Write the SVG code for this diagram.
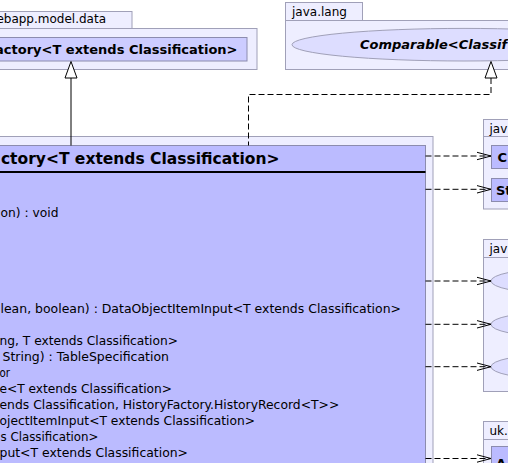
<svg xmlns="http://www.w3.org/2000/svg" width="508" height="463" viewBox="0 0 508 463">
<style>
text{font-family:"DejaVu Sans","Liberation Sans",sans-serif;fill:#000}
.pkg{fill:#eeeeff;stroke:#a0a0b8;stroke-width:1}
.cls{fill:#bbbbff;stroke:#8c8cae;stroke-width:1}
.cls2{fill:#ccccff;stroke:#8c8cae;stroke-width:1}
.ifc{fill:#ddddff;stroke:#a0a0b8;stroke-width:1}
.ptxt{font-size:12px}
.ttl{font-weight:bold}
.mem{font-size:12px}
.dep{fill:none;stroke:#000;stroke-width:1;stroke-dasharray:6,3}
.ah{fill:none;stroke:#000;stroke-width:1}
.gen{fill:#fff;stroke:#000;stroke-width:1}
</style>
<rect width="508" height="463" fill="#fff"/>

<g id="pkg-model-data">
<rect class="pkg" x="-10" y="11.5" width="142" height="17"/>
<rect class="pkg" x="-10" y="28.5" width="267" height="41"/>
<text class="ptxt" x="106" y="23" text-anchor="end">ebapp.model.data</text>
</g>
<g id="cls-factory-parent">
<rect class="cls2" x="-10" y="37.5" width="257" height="23.5"/>
<text class="ttl" x="237.5" y="54.3" font-size="13" text-anchor="end">actory&lt;T extends Classification&gt;</text>
</g>

<g id="pkg-java-lang">
<rect class="pkg" x="285.5" y="2.5" width="77" height="18"/>
<rect class="pkg" x="285.5" y="20.5" width="240" height="49"/>
<text class="ptxt" x="292" y="16">java.lang</text>
</g>
<g id="ifc-comparable">
<ellipse class="ifc" cx="464" cy="44.7" rx="172" ry="16.3"/>
<text class="ttl" x="360" y="49.3" font-size="13" font-style="italic">Comparable&lt;Classif</text>
</g>

<g id="pkg-main">
<rect class="pkg" x="-10" y="136.5" width="443" height="340"/>
</g>
<g id="cls-main">
<rect class="cls" x="-10" y="145.5" width="435.5" height="330"/>
<line x1="-10" y1="172" x2="425.5" y2="172" stroke="#000" stroke-width="2"/>
<text class="ttl" x="279.5" y="163.5" font-size="15.5" text-anchor="end">ctory&lt;T extends Classification&gt;</text>
<text class="mem" x="0.5" y="217" textLength="58" lengthAdjust="spacingAndGlyphs">on) : void</text>
<text class="mem" x="0.5" y="313.3" textLength="400.5" lengthAdjust="spacingAndGlyphs">lean, boolean) : DataObjectItemInput&lt;T extends Classification&gt;</text>
<text class="mem" x="-0.5" y="345" textLength="178.5" lengthAdjust="spacingAndGlyphs">ng, T extends Classification&gt;</text>
<text class="mem" x="2.5" y="361" textLength="166.5" lengthAdjust="spacingAndGlyphs">String) : TableSpecification</text>
<text class="mem" x="-0.5" y="377" textLength="10.5" lengthAdjust="spacingAndGlyphs">or</text>
<text class="mem" x="-0.5" y="393" textLength="172.5" lengthAdjust="spacingAndGlyphs">e&lt;T extends Classification&gt;</text>
<text class="mem" x="-0.5" y="408.7" textLength="339.8" lengthAdjust="spacingAndGlyphs">ends Classification, HistoryFactory.HistoryRecord&lt;T&gt;&gt;</text>
<text class="mem" x="-0.5" y="424.7" textLength="255.5" lengthAdjust="spacingAndGlyphs">ojectItemInput&lt;T extends Classification&gt;</text>
<text class="mem" x="0.5" y="440.7" textLength="98" lengthAdjust="spacingAndGlyphs">s Classification&gt;</text>
<text class="mem" x="-0.5" y="456.7" textLength="188.5" lengthAdjust="spacingAndGlyphs">put&lt;T extends Classification&gt;</text>
</g>

<g id="pkg-right-1">
<rect class="pkg" x="483.5" y="119.5" width="60" height="17"/>
<rect class="pkg" x="483.5" y="136.5" width="60" height="72.5"/>
<text class="ptxt" x="489.5" y="132.5">jav</text>
</g>
<g id="cls-C">
<rect class="cls" x="491.5" y="145.5" width="40" height="23"/>
<text class="ttl" x="497.5" y="161.6" font-size="13">C</text>
</g>
<g id="cls-St">
<rect class="cls" x="491.5" y="178.5" width="40" height="23"/>
<text class="ttl" x="496" y="194.5" font-size="13">St</text>
</g>

<g id="pkg-right-2">
<rect class="pkg" x="483.5" y="239.5" width="60" height="18"/>
<rect class="pkg" x="483.5" y="257.5" width="60" height="134"/>
<text class="ptxt" x="489.5" y="252.5">jav</text>
</g>
<g id="ifc-r2-1"><ellipse class="ifc" cx="551" cy="281" rx="60" ry="12"/></g>
<g id="ifc-r2-2"><ellipse class="ifc" cx="551" cy="324.3" rx="60" ry="12"/></g>
<g id="ifc-r2-3"><ellipse class="ifc" cx="551" cy="366.7" rx="60" ry="12"/></g>

<g id="pkg-uk">
<rect class="pkg" x="483.5" y="421.5" width="60" height="18"/>
<rect class="pkg" x="483.5" y="439.5" width="60" height="40"/>
<text class="ptxt" x="489.5" y="434.5">uk.</text>
</g>
<g id="cls-A">
<rect class="cls" x="491.5" y="446.5" width="40" height="30"/>
<text class="ttl" x="496" y="468" font-size="13">A</text>
</g>

<g id="connectors">
<line x1="71" y1="78" x2="71" y2="145.5" stroke="#000" stroke-width="1"/>
<polygon class="gen" points="71,61.5 65,78 77,78"/>
<polyline class="dep" points="491,78 491,94.5 248.5,94.5 248.5,145.5"/>
<polygon class="gen" points="491,61.5 485,78 497,78"/>
<line class="dep" x1="425.5" y1="156" x2="491" y2="156"/>
<polyline class="ah" points="477,152.3 491,156 477,159.7"/>
<line class="dep" x1="425.5" y1="189.3" x2="491" y2="189.3"/>
<polyline class="ah" points="477,185.6 491,189.3 477,193"/>
<line class="dep" x1="425.5" y1="281" x2="491" y2="281"/>
<polyline class="ah" points="477,277.3 491,281 477,284.7"/>
<line class="dep" x1="425.5" y1="324.3" x2="491" y2="324.3"/>
<polyline class="ah" points="477,320.6 491,324.3 477,328"/>
<line class="dep" x1="425.5" y1="366.7" x2="491" y2="366.7"/>
<polyline class="ah" points="477,363 491,366.7 477,370.4"/>
<line class="dep" x1="425.5" y1="458.5" x2="491" y2="458.5"/>
<polyline class="ah" points="477,454.8 491,458.5 477,462.2"/>
</g>
</svg>
